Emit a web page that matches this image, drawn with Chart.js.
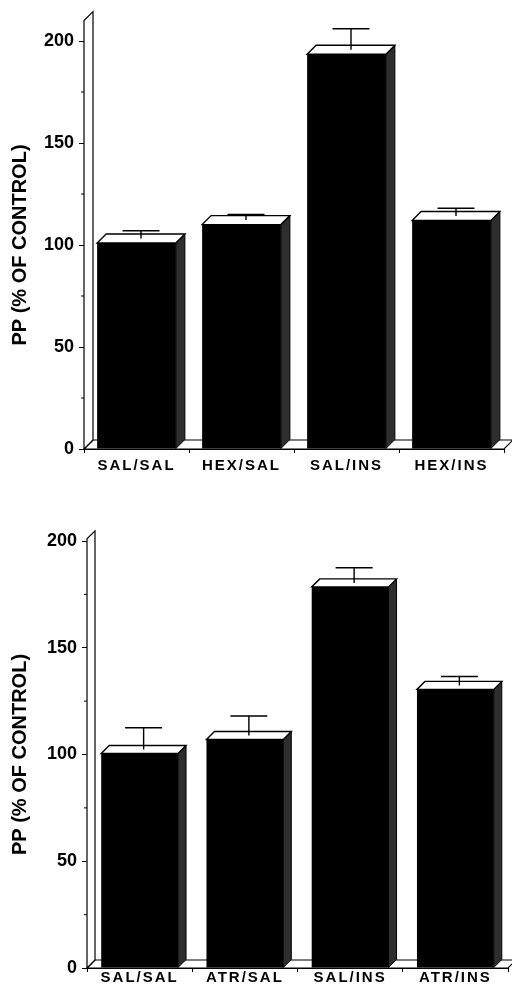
<!DOCTYPE html>
<html>
<head>
<meta charset="utf-8">
<script src="https://cdn.jsdelivr.net/npm/chart.js@4.4.1/dist/chart.umd.min.js"></script>
<style>
  html, body { margin: 0; padding: 0; background: #fff; }
  canvas { display: block; }
</style>
</head>
<body>
<canvas id="topChart" width="512" height="496"></canvas>
<canvas id="bottomChart" width="512" height="496"></canvas>
<script>
// data
const topLabels = ['SAL/SAL', 'HEX/SAL', 'SAL/INS', 'HEX/INS'];
const topMeans = [101, 110, 193.5, 112];
const topErrors = [6, 5, 12.5, 6];

const bottomLabels = ['SAL/SAL', 'ATR/SAL', 'SAL/INS', 'ATR/INS'];
const bottomMeans = [100.5, 107, 178.5, 130.5];
const bottomErrors = [12, 11, 9, 6];

const yTickValues = [0, 50, 100, 150, 200];
const yMinorValues = [25, 75, 125, 175];
const yTitle = 'PP (% OF CONTROL)';

Chart.defaults.font.family = "'Liberation Sans', Arial, sans-serif";
Chart.defaults.color = '#000';

// draws the 3D look: back wall, floor, bar tops/sides and error bars
const bar3d = {
  id: 'bar3d',
  beforeDatasetsDraw(chart, args, opts) {
    const ctx = chart.ctx;
    const area = chart.chartArea;
    const y = chart.scales.y;
    const d = opts.depth;
    const x0 = area.left;
    const base = y.getPixelForValue(0);
    const right = area.right;
    ctx.save();
    ctx.lineWidth = 1.2;
    ctx.strokeStyle = '#000';
    ctx.fillStyle = '#fff';
    // floor
    ctx.beginPath();
    ctx.moveTo(x0, base);
    ctx.lineTo(right, base);
    ctx.lineTo(right + d, base - d);
    ctx.lineTo(x0 + d, base - d);
    ctx.closePath();
    ctx.fill();
    ctx.stroke();
    // back wall along the y axis
    const top = y.getPixelForValue(opts.wallTop);
    ctx.beginPath();
    ctx.moveTo(x0, base);
    ctx.lineTo(x0, top);
    ctx.lineTo(x0 + d, top - d);
    ctx.lineTo(x0 + d, base - d);
    ctx.closePath();
    ctx.fill();
    ctx.stroke();
    // minor ticks
    ctx.lineWidth = 1;
    yMinorValues.forEach(v => {
      const py = y.getPixelForValue(v);
      ctx.beginPath();
      ctx.moveTo(x0 - 3, py);
      ctx.lineTo(x0, py);
      ctx.stroke();
    });
    ctx.restore();
  },
  afterDatasetsDraw(chart, args, opts) {
    const ctx = chart.ctx;
    const y = chart.scales.y;
    const d = opts.depth;
    const ds = chart.data.datasets[0];
    const meta = chart.getDatasetMeta(0);
    ctx.save();
    ctx.strokeStyle = '#000';
    meta.data.forEach((bar, i) => {
      const l = bar.x - bar.width / 2;
      const r = bar.x + bar.width / 2;
      const t = bar.y;
      const b = bar.base;
      // side face
      ctx.lineWidth = 1;
      ctx.fillStyle = '#2e2e2e';
      ctx.beginPath();
      ctx.moveTo(r, b);
      ctx.lineTo(r, t);
      ctx.lineTo(r + d, t - d);
      ctx.lineTo(r + d, b - d);
      ctx.closePath();
      ctx.fill();
      ctx.stroke();
      // top face
      ctx.lineWidth = 1.4;
      ctx.fillStyle = '#fff';
      ctx.beginPath();
      ctx.moveTo(l, t);
      ctx.lineTo(r, t);
      ctx.lineTo(r + d, t - d);
      ctx.lineTo(l + d, t - d);
      ctx.closePath();
      ctx.fill();
      ctx.stroke();
      // error bar
      const ye = y.getPixelForValue(ds.data[i] + ds.errors[i]);
      const ex = bar.x + d / 2;
      ctx.lineWidth = 1.4;
      ctx.beginPath();
      ctx.moveTo(ex, t - d / 2);
      ctx.lineTo(ex, ye);
      ctx.moveTo(ex - opts.capWidth / 2, ye);
      ctx.lineTo(ex + opts.capWidth / 2, ye);
      ctx.stroke();
    });
    ctx.restore();
    // x tick labels are drawn after this (ticks.z = 1), spaced out
    ctx.letterSpacing = opts.labelSpacing;
  },
  afterDraw(chart) {
    chart.ctx.letterSpacing = '0px';
  }
};

function makeChart(id, labels, means, errors, s) {
  const ctx = document.getElementById(id).getContext('2d');
  return new Chart(ctx, {
    type: 'bar',
    data: {
      labels: labels,
      datasets: [{
        data: means,
        errors: errors,
        backgroundColor: '#000',
        borderWidth: 0,
        categoryPercentage: s.barFrac,
        barPercentage: 1
      }]
    },
    options: {
      responsive: false,
      animation: false,
      devicePixelRatio: 1,
      layout: { padding: { top: s.padTop, right: s.padRight, left: 0, bottom: 0 } },
      plugins: {
        legend: { display: false },
        tooltip: { enabled: false },
        bar3d: { depth: s.depth, wallTop: s.wallTop, capWidth: 37, labelSpacing: '2px' }
      },
      scales: {
        x: {
          type: 'category',
          afterFit: sc => { sc.height = s.xHeight; },
          grid: { offset: true, drawOnChartArea: false, tickLength: 4, color: '#000' },
          border: { display: true, color: '#000' },
          ticks: { z: 1, padding: s.xPad, maxRotation: 0, font: { size: 15, weight: 'bold' }, color: '#000' }
        },
        y: {
          min: 0,
          max: 200,
          afterFit: sc => { sc.width = s.yWidth; },
          afterBuildTicks: sc => { sc.ticks = yTickValues.map(v => ({ value: v })); },
          grid: { drawOnChartArea: false, tickLength: 5, color: '#000' },
          border: { display: true, color: '#000' },
          ticks: { padding: 5, font: { size: 18, weight: 'bold' }, color: '#000' },
          title: {
            display: true,
            text: yTitle,
            font: { size: 20, weight: 'bold' },
            color: '#000',
            padding: { top: 8, bottom: 0 }
          }
        }
      }
    },
    plugins: [bar3d]
  });
}

makeChart('topChart', topLabels, topMeans, topErrors,
  { padTop: 41, padRight: 8, yWidth: 84, xHeight: 47, xPad: 4, barFrac: 0.75, depth: 9, wallTop: 210 });
makeChart('bottomChart', bottomLabels, bottomMeans, bottomErrors,
  { padTop: 45, padRight: 4, yWidth: 87, xHeight: 24, xPad: -3, barFrac: 0.73, depth: 8, wallTop: 201 });
</script>
</body>
</html>
